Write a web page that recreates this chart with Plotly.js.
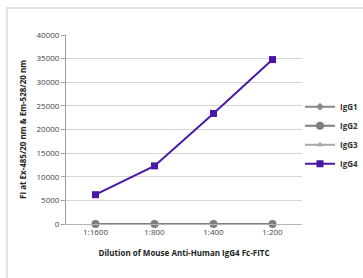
<!DOCTYPE html>
<html>
<head>
<meta charset="utf-8">
<script src="https://cdn.plot.ly/plotly-3.0.1.min.js"></script>
<style>
  html, body { margin: 0; padding: 0; background: #fff; }
  #wrap { position: relative; width: 363px; height: 278px; overflow: hidden; }
  #chart { position: absolute; left: 0; top: 0; width: 363px; height: 278px; }
  #frame { position: absolute; left: 6px; top: 7px; width: 370px; height: 290px;
           border: 2px solid #e3e3e3; pointer-events: none; box-sizing: border-box; }
</style>
</head>
<body>
<div id="wrap">
  <div id="chart"></div>
  <div id="frame"></div>
</div>
<script>
const categories = ["1:1600", "1:800", "1:400", "1:200"];
const seriesNames = ["IgG1", "IgG2", "IgG3", "IgG4"];
const igg1 = [0, 0, 0, 0];
const igg2 = [0, 0, 0, 0];
const igg3 = [0, 0, 0, 0];
const igg4 = [6200, 12300, 23400, 34800];
const yTicks = [0, 5000, 10000, 15000, 20000, 25000, 30000, 35000, 40000];

const styles = [
  {color: "#8a8a8a", symbol: "diamond", size: 6},
  {color: "#7f7f7f", symbol: "circle", size: 8},
  {color: "#a8a8a8", symbol: "triangle-up", size: 6},
  {color: "#4b17a8", symbol: "square", size: 7}
];
const values = [igg1, igg2, igg3, igg4];

const drawOrder = [0, 2, 1, 3];
const traces = drawOrder.map(i => ({
  type: "scatter",
  mode: "lines+markers",
  name: seriesNames[i],
  x: categories,
  y: values[i],
  legendrank: i + 1,
  line: {color: styles[i].color, width: 2},
  marker: {color: styles[i].color, symbol: styles[i].symbol, size: styles[i].size},
  cliponaxis: false
}));

const font = "'Open Sans', 'Liberation Sans', sans-serif";
const layout = {
  width: 363, height: 278,
  margin: {l: 66, r: 0, t: 35, b: 54, pad: 0},
  paper_bgcolor: "#fff", plot_bgcolor: "#fff",
  font: {family: font, size: 8, color: "#333"},
  showlegend: true,
  legend: {
    x: 1.0, xanchor: "right", y: 0.47, yanchor: "middle",
    bgcolor: "rgba(0,0,0,0)", font: {size: 8, color: "#333", family: font, weight: "bold"},
    tracegroupgap: 0, itemwidth: 30
  },
  xaxis: {
    type: "category", range: [-0.5, 3.5], domain: [0, 0.7946],
    showline: true, linecolor: "#b5b5b5", linewidth: 1,
    showgrid: false, zeroline: false, ticks: "",
    tickfont: {size: 8, color: "#444"},
    title: {text: "Dilution of Mouse Anti-Human IgG4 Fc-FITC",
            font: {size: 8, color: "#222", weight: "bold"}, standoff: 14}
  },
  yaxis: {
    range: [0, 40000], tickvals: yTicks, ticktext: yTicks.map(String),
    showline: true, linecolor: "#a0a0a0", linewidth: 1,
    ticks: "outside", ticklen: 4, tickcolor: "#a0a0a0",
    showgrid: true, gridcolor: "#d6d6d6", gridwidth: 1, zeroline: false,
    tickfont: {size: 8, color: "#444"},
    title: {text: "FI at Ex-485/20 nm & Em-528/20 nm",
            font: {size: 8, color: "#222", weight: "bold"}, standoff: 8}
  }
};

Plotly.newPlot("chart", traces, layout, {staticPlot: true, displayModeBar: false});
</script>
</body>
</html>
